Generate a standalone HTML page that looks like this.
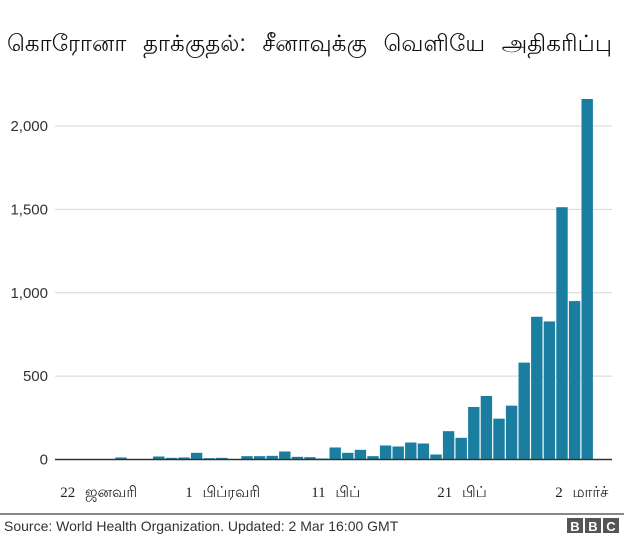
<!DOCTYPE html>
<html><head><meta charset="utf-8"><style>
body{margin:0;width:624px;height:536px;background:#fff;overflow:hidden;font-family:"Liberation Sans","Noto Sans CJK JP",sans-serif}
</style></head><body>
<svg width="624" height="536" xmlns="http://www.w3.org/2000/svg">
<text x="7" y="51" font-size="23" fill="#111" word-spacing="10" textLength="605" lengthAdjust="spacing" font-family="'Liberation Sans','Noto Sans CJK JP',sans-serif">கொரோனா தாக்குதல்: சீனாவுக்கு வெளியே அதிகரிப்பு</text>
<g id="grid"></g><g id="bars"></g><g id="xl"></g>
<line x1="0" y1="514" x2="624" y2="514" stroke="#888" stroke-width="2"/>
<text x="4" y="531" font-size="14" fill="#333">Source: World Health Organization. Updated: 2 Mar 16:00 GMT</text>
<g>
<rect x="567" y="518" width="16" height="15" fill="#555"/><rect x="585" y="518" width="16" height="15" fill="#555"/><rect x="603" y="518" width="16" height="15" fill="#555"/>
<text x="575" y="531" font-size="13" font-weight="bold" fill="#fff" text-anchor="middle">B</text>
<text x="593" y="531" font-size="13" font-weight="bold" fill="#fff" text-anchor="middle">B</text>
<text x="611" y="531" font-size="13" font-weight="bold" fill="#fff" text-anchor="middle">C</text>
</g>
</svg>
<script>
const values=[0,0,0,12,0,0,18,10,12,40,8,10,0,20,20,22,48,16,14,6,72,40,58,20,84,78,102,96,30,170,130,315,381,245,323,581,856,828,1513,950,2162];
const yTicks=[0,500,1000,1500,2000];
const yTickLabels=["0","500","1,000","1,500","2,000"];
const xLabelIdx=[0,10,20,30,40];
const xLabels=["22 ஜனவரி","1 பிப்ரவரி","11 பிப்","21 பிப்","2 மார்ச்"];
const NS="http://www.w3.org/2000/svg";
const y0=459.5,ppu=333.5/2000,pitch=12.6,x0=77.2;
const ys=v=>y0-v*ppu, xs=i=>x0+i*pitch;
const g=document.getElementById('grid'),b=document.getElementById('bars'),xl=document.getElementById('xl');
yTicks.forEach((t,k)=>{
 if(t>0){const l=document.createElementNS(NS,'line');
 l.setAttribute('x1',55);l.setAttribute('x2',612);l.setAttribute('y1',ys(t));l.setAttribute('y2',ys(t));
 l.setAttribute('stroke','#d5d5d5');l.setAttribute('stroke-width','1');
 
 g.appendChild(l);}
 const tx=document.createElementNS(NS,'text');
 tx.setAttribute('x',48);tx.setAttribute('y',ys(t)+5);tx.setAttribute('text-anchor','end');
 tx.setAttribute('font-size','15');tx.setAttribute('fill','#333');tx.textContent=yTickLabels[k];
 
 g.appendChild(tx);
});
values.forEach((v,i)=>{
 if(v<=0)return;
 const r=document.createElementNS(NS,'rect');
 r.setAttribute('x',xs(i)+0.3);r.setAttribute('width',pitch-1.2);
 r.setAttribute('y',ys(v));r.setAttribute('height',v*ppu);r.setAttribute('fill','#1a7ea1');
 
 b.appendChild(r);
});
const ax=document.createElementNS(NS,'line');
ax.setAttribute('x1',55);ax.setAttribute('x2',612);ax.setAttribute('y1',y0);ax.setAttribute('y2',y0);
ax.setAttribute('stroke','#333');ax.setAttribute('stroke-width','1.5');

b.appendChild(ax);
xLabelIdx.forEach((idx,k)=>{
 const tx=document.createElementNS(NS,'text');
 tx.setAttribute('x',xs(idx)+(k===0?-17:(k===4?-26:-18)));tx.setAttribute('y',497);
 tx.setAttribute('font-size','15');tx.setAttribute('fill','#222');
 tx.setAttribute('word-spacing','6');
 tx.setAttribute('font-family',"'Liberation Serif','Noto Sans CJK JP',serif");
 tx.textContent=xLabels[k];
 
 xl.appendChild(tx);
});
</script>
</body></html>
